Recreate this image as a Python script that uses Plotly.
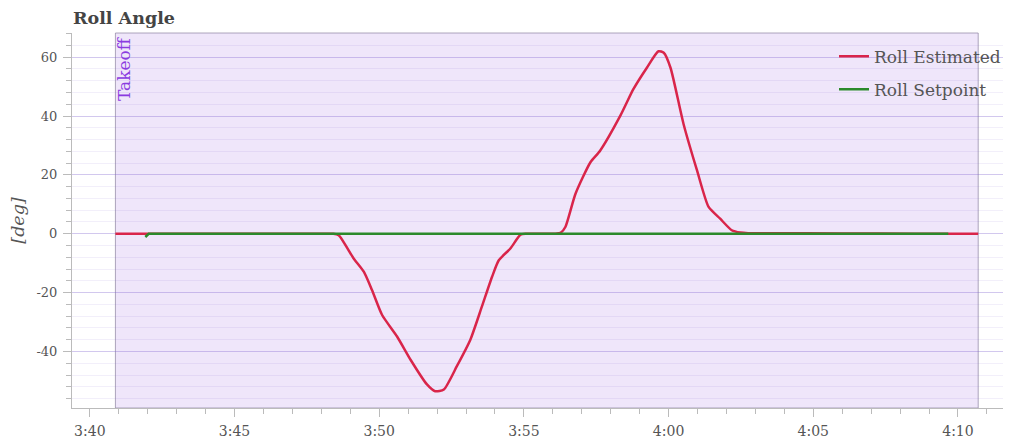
import plotly.graph_objects as go

DAY = "2024-01-01 "

est_time = ["03:40:53", "03:45:00", "03:48:00", "03:48:25", "03:48:36", "03:49:07",
            "03:49:28", "03:49:45", "03:50:06", "03:50:37", "03:51:05", "03:51:39",
            "03:51:56", "03:52:14", "03:52:41", "03:53:09", "03:53:33", "03:53:54",
            "03:54:08", "03:54:32", "03:54:53", "03:55:05", "03:55:40", "03:56:05",
            "03:56:16", "03:56:26", "03:56:47", "03:57:18", "03:57:38", "03:58:20",
            "03:58:47", "03:59:15", "03:59:39", "03:59:50", "04:00:04", "04:00:31",
            "04:00:59", "04:01:23", "04:01:47", "04:02:11", "04:02:29", "04:02:45",
            "04:03:30", "04:06:00", "04:08:30", "04:10:42"]
est_roll = [0, 0, 0, 0, -0.5, -8.4,
            -12.9, -19.1, -27.6, -34.9, -42.8, -51.2,
            -53.5, -52.9, -45.0, -36.0, -24.7, -14.6,
            -9.0, -5.0, -0.3, 0, 0, 0,
            0.3, 2.3, 13.6, 24.3, 28.2, 40.1,
            49.1, 56.4, 62.0, 61.5, 56.4, 37.3,
            21.5, 9.1, 5.1, 1.2, 0.4, 0.2,
            0.2, 0.1, 0, 0]

sp_time = ["03:41:55", "03:42:02", "04:09:40"]
sp_roll = [-1.1, 0, 0]

takeoff_start = "03:40:53"
takeoff_end = "04:10:42"
x_range = ["03:39:23", "04:11:50"]
y_range = [-59.2, 68.2]

y_tickvals = [-40, -20, 0, 20, 40, 60]
y_ticktext = ["-40", "-20", "0", "20", "40", "60"]

SERIF = "DejaVu Serif"
GRAY = "#555555"

fig = go.Figure()
fig.add_trace(go.Scatter(
    x=[DAY + t for t in est_time], y=est_roll, mode="lines",
    name="Roll Estimated", legendgroup="a",
    line=dict(color="#d9254a", width=2.5, shape="spline", smoothing=0.6),
))
fig.add_trace(go.Scatter(
    x=[DAY + t for t in sp_time], y=sp_roll, mode="lines",
    name="Roll Setpoint", legendgroup="b",
    line=dict(color="#2b8a2b", width=2.5),
))

fig.add_shape(type="rect", xref="x", yref="paper",
              x0=DAY + takeoff_start, x1=DAY + takeoff_end, y0=0, y1=1,
              fillcolor="#efe6fa", line=dict(color="rgba(140,130,160,0.7)", width=1),
              layer="below")
fig.add_annotation(x=DAY + takeoff_start, y=1, xref="x", yref="paper",
                   text="Takeoff", textangle=-90, showarrow=False,
                   xanchor="left", yanchor="top", xshift=-4, yshift=-1,
                   font=dict(family=SERIF, size=17, color="#8a3be0"))

fig.update_layout(
    width=1003, height=431,
    margin=dict(l=64, r=0, t=25, b=31),
    paper_bgcolor="white", plot_bgcolor="white",
    title=dict(text="<b>Roll Angle</b>", x=65 / 1003, xref="container", xanchor="left",
               y=1 - 9.5 / 431, yref="container", yanchor="middle",
               font=dict(family=SERIF, size=17.5, color="#444444")),
    legend=dict(x=(826 - 64) / 939, xanchor="left", y=0.985, yanchor="top",
                bgcolor="rgba(0,0,0,0)", tracegroupgap=8,
                font=dict(family=SERIF, size=17, color=GRAY)),
    font=dict(family=SERIF, color=GRAY),
)

fig.update_xaxes(
    range=[DAY + x_range[0], DAY + x_range[1]],
    type="date", tickformat="%-H:%M", dtick=300000, tick0=DAY + "03:40:00",
    showgrid=False, zeroline=False, automargin=False,
    showline=True, linecolor="#bbbbbb", linewidth=1,
    ticks="outside", ticklen=8, tickcolor="#bbbbbb", ticklabelstandoff=2,
    tickfont=dict(family=SERIF, size=14, color=GRAY),
    minor=dict(dtick=60000, tick0=DAY + "03:40:00", ticks="outside", ticklen=5,
               tickcolor="#bbbbbb", showgrid=False),
)
fig.update_yaxes(
    range=y_range, tickmode="array", tickvals=y_tickvals, ticktext=y_ticktext,
    showgrid=True, gridcolor="rgba(130,100,210,0.28)", gridwidth=1,
    zeroline=False,
    showline=True, linecolor="#bbbbbb", linewidth=1,
    ticks="outside", ticklen=8, tickcolor="#bbbbbb", ticklabelstandoff=3,
    tickfont=dict(family=SERIF, size=13, color=GRAY),
    title=dict(text="<i>[deg]</i>", font=dict(family=SERIF, size=17.5, color=GRAY), standoff=8),
    minor=dict(tickmode="linear", dtick=4, tick0=0, ticks="outside", ticklen=5,
               tickcolor="#bbbbbb", showgrid=True, gridcolor="rgba(130,100,210,0.10)"),
)

fig.write_html("out.html")
